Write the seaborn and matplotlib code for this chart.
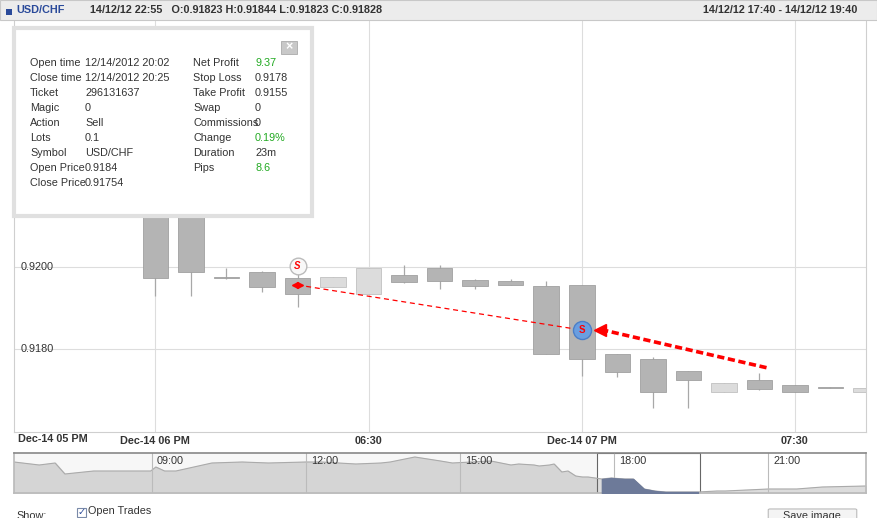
import matplotlib
matplotlib.use("Agg")
import matplotlib.pyplot as plt
import matplotlib.patches as mpatches
import seaborn as sns
import pandas as pd

# ---- data ----
minutes = [0, 5, 10, 15, 20, 25, 30, 35, 40, 45, 50, 55, 60, 65, 70, 75, 80, 85, 90, 95, 100]
opens  = [0.92180, 0.92180, 0.91975, 0.91988, 0.91973, 0.91951, 0.91934, 0.91980, 0.91998, 0.91968, 0.91966, 0.91954, 0.91956, 0.91788, 0.91776, 0.91746, 0.91695, 0.91724, 0.91712, 0.91706, 0.91695]
closes = [0.91973, 0.91988, 0.91972, 0.91951, 0.91934, 0.91976, 0.91998, 0.91963, 0.91966, 0.91954, 0.91956, 0.91788, 0.91776, 0.91744, 0.91695, 0.91724, 0.91717, 0.91702, 0.91695, 0.91704, 0.91705]
highs  = [0.92220, 0.92200, 0.91998, 0.91990, 0.91983, 0.91976, 0.91998, 0.92005, 0.92005, 0.91971, 0.91971, 0.91966, 0.91956, 0.91788, 0.91780, 0.91746, 0.91717, 0.91741, 0.91712, 0.91706, 0.91705]
lows   = [0.91929, 0.91929, 0.91970, 0.91939, 0.91902, 0.91951, 0.91934, 0.91960, 0.91946, 0.91946, 0.91956, 0.91788, 0.91734, 0.91732, 0.91656, 0.91656, 0.91695, 0.91700, 0.91695, 0.91704, 0.91695]
xtick_pos = [0, 30, 60, 90]
xtick_labels = ["Dec-14 06 PM", "06:30", "Dec-14 07 PM", "07:30"]
ytick_vals = [0.9180, 0.9200]
open_trade = (20, 0.91956)
close_trade = (60, 0.91846)
sl_line = (86, 0.91754)

nav_hours = [6.32, 6.81, 7.12, 7.31, 7.87, 8.98, 9.08, 9.25, 9.47, 10.17, 10.76, 11.27, 12.0, 12.3, 12.97, 13.46, 13.64, 14.12, 14.62, 14.85, 15.6, 15.99, 16.14, 16.44, 16.54, 16.74, 16.83, 16.98, 17.10, 17.25, 17.38, 17.49, 17.76, 17.94, 18.2, 18.37, 18.58, 18.69, 18.79, 19.0, 19.27, 19.63, 20.0, 20.16, 21.0, 21.55, 22.05, 22.9]
nav_vals = [31, 28, 30, 19, 22, 22, 26, 22, 22, 30, 31, 30, 31, 31, 29, 30, 31, 36, 32, 30, 32, 28, 29, 28, 27, 28, 29, 21, 22, 17, 16, 16, 14, 15, 14, 14, 4, 3, 2, 1, 1, 1, 2, 2, 4, 4, 6, 7]

# ---- figure ----
sns.set_theme(style="white")
plt.rcParams['font.family'] = ['Liberation Sans', 'DejaVu Sans']
FS = 7.8
W, H = 877, 518
fig = plt.figure(figsize=(W/100, H/100), dpi=100)
fig.patch.set_facecolor("white")
fx = lambda px: px / W
fy = lambda py: 1 - py / H

# header bar
fig.patches.append(mpatches.Rectangle((fx(0), fy(20)), 1, 20/H, transform=fig.transFigure,
                                      facecolor="#ececec", edgecolor="#c8c8c8", lw=0.8))
fig.patches.append(mpatches.Rectangle((fx(6), fy(15)), 6/W, 6/H, transform=fig.transFigure,
                                      facecolor="#2a4a9a", edgecolor="none"))
fig.text(fx(16), fy(10), "USD/CHF", color="#2a4a9a", fontsize=FS, weight="bold", va="center")
fig.text(fx(90), fy(10), "14/12/12 22:55   O:0.91823 H:0.91844 L:0.91823 C:0.91828",
         color="#333333", fontsize=FS, weight="bold", va="center")
fig.text(fx(857), fy(10), "14/12/12 17:40 - 14/12/12 19:40", color="#333333",
         fontsize=FS, weight="bold", va="center", ha="right")

# main axes
ax = fig.add_axes([fx(14), fy(432), 852/W, 412/H])
ax.set_xlim(-19.9, 100)
ax.set_ylim(0.91597, 0.92603)
for m in xtick_pos:
    ax.axvline(m, color="#dddddd", lw=0.8, zorder=0)
for v in ytick_vals:
    ax.axhline(v, color="#dddddd", lw=0.8, zorder=0)

df = pd.DataFrame(dict(m=minutes, o=opens, c=closes, h=highs, l=lows))
df["up"] = df.c > df.o
df["bottom"] = df[["o", "c"]].min(axis=1)
df["height"] = (df.o - df.c).abs().clip(lower=0.000015)
ax.vlines(df.m, df.l, df.h, color="#a8a8a8", lw=0.9, zorder=1)
for up, col in [(False, "#b4b4b4"), (True, "#dcdcdc")]:
    sub = df[df.up == up]
    ax.bar(sub.m, sub.height, bottom=sub.bottom, width=3.6, color=col,
           edgecolor="#a0a0a0" if not up else "#c0c0c0", lw=0.6, zorder=2)

# trade lines
ax.plot([open_trade[0], close_trade[0]], [open_trade[1], close_trade[1]], ls=(0, (4, 3)),
        color="red", lw=0.9, zorder=3)
ax.plot(open_trade[0] + 0.4, open_trade[1], marker=">", color="red", ms=4, zorder=4)
ax.plot(open_trade[0] - 0.4, open_trade[1], marker="<", color="red", ms=4, zorder=4)
ax.plot([sl_line[0], close_trade[0] + 3], [sl_line[1], close_trade[1]], ls=(0, (2, 1)),
        color="red", lw=2.6, zorder=3)
ax.plot(close_trade[0] + 2.5, close_trade[1], marker="<", color="red", ms=9, zorder=4)
ax.plot(close_trade[0], close_trade[1], "o", ms=13, mfc="#6a9ee0", mec="#4a7ec8", zorder=5)
ax.text(close_trade[0], close_trade[1], "S", color="red", fontsize=7, weight="bold",
        ha="center", va="center", zorder=6)
ax.plot(open_trade[0], 0.92003, "o", ms=12, mfc="#f8f8f8", mec="#bbbbbb", zorder=5)
ax.text(open_trade[0], 0.92003, "S", color="red", fontsize=7, weight="bold", style="italic",
        ha="center", va="center", zorder=6)

ax.set_xticks(xtick_pos)
ax.set_xticklabels(xtick_labels, fontsize=FS, weight="bold", color="#333333")
ax.tick_params(axis="x", length=0, pad=3)
ax.set_yticks([])
for v in ytick_vals:
    ax.text(-19.0, v, f"{v:.4f}", fontsize=FS, color="#333333", va="center", ha="left")
fig.text(fx(18), fy(439), "Dec-14 05 PM", fontsize=FS, weight="bold", color="#333333",
         ha="left", va="center")
for s in ax.spines.values():
    s.set_color("#cfcfcf"); s.set_linewidth(0.8)
ax.spines["top"].set_visible(False)

# info box
fig.patches.append(mpatches.Rectangle((fx(14), fy(216)), 298/W, 188/H, transform=fig.transFigure,
                                      facecolor="white", edgecolor="#e0e0e0", lw=3, zorder=10))
fig.patches.append(mpatches.Rectangle((fx(281), fy(54)), 16/W, 13/H, transform=fig.transFigure,
                                      facecolor="#c8c8c8", edgecolor="#aaaaaa", lw=0.6, zorder=11))
fig.text(fx(289), fy(47.5), "×", color="white", fontsize=9, weight="bold", ha="center",
         va="center", zorder=12)
left_rows = [("Open time", "12/14/2012 20:02"), ("Close time", "12/14/2012 20:25"),
             ("Ticket", "296131637"), ("Magic", "0"), ("Action", "Sell"), ("Lots", "0.1"),
             ("Symbol", "USD/CHF"), ("Open Price", "0.9184"), ("Close Price", "0.91754")]
right_rows = [("Net Profit", "9.37", True), ("Stop Loss", "0.9178", False),
              ("Take Profit", "0.9155", False), ("Swap", "0", False),
              ("Commissions", "0", False), ("Change", "0.19%", True),
              ("Duration", "23m", False), ("Pips", "8.6", True)]
for i, (k, v) in enumerate(left_rows):
    y = fy(63 + 15 * i)
    fig.text(fx(30), y, k, fontsize=FS, color="#333333", va="center", zorder=12)
    fig.text(fx(85), y, v, fontsize=FS, color="#333333", va="center", zorder=12)
for i, (k, v, g) in enumerate(right_rows):
    y = fy(63 + 15 * i)
    fig.text(fx(193), y, k, fontsize=FS, color="#333333", va="center", zorder=12)
    fig.text(fx(255), y, v, fontsize=FS, color="#22aa22" if g else "#333333", va="center", zorder=12)

# navigator
nav = fig.add_axes([fx(14), fy(493), 852/W, 40/H])
nav.set_xlim(6.32, 22.9)
nav.set_ylim(0, 40)
ndf = pd.DataFrame(dict(t=nav_hours, v=nav_vals))
nav.fill_between(ndf.t, ndf.v, color="#dcdcdc", zorder=1)
sns.lineplot(data=ndf, x="t", y="v", ax=nav, color="#aaaaaa", lw=0.8, zorder=2)
sel = ndf[(ndf.t >= 17.67) & (ndf.t <= 19.67)]
nav.fill_between(sel.t, sel.v, color="#6d7a99", zorder=3)
nav.axvspan(6.32, 17.67, color="#000000", alpha=0.03, lw=0)
nav.axvspan(17.67, 19.67, facecolor="none", edgecolor="#666666", lw=0.8)
for hh, lab in [(9, "09:00"), (12, "12:00"), (15, "15:00"), (18, "18:00"), (21, "21:00")]:
    nav.axvline(hh, color="#bbbbbb", lw=0.8)
    nav.text(hh + 0.1, 37, lab, fontsize=FS, color="#333333", va="top")
nav.set_xticks([]); nav.set_yticks([]); nav.set_xlabel(""); nav.set_ylabel("")
for s in nav.spines.values():
    s.set_color("#bbbbbb")
nav.spines["top"].set_color("#888888"); nav.spines["top"].set_linewidth(1.2)

# bottom controls
fig.patches.append(mpatches.Rectangle((fx(77), fy(517)), 9/W, 9/H, transform=fig.transFigure,
                                      facecolor="white", edgecolor="#7a8aa8", lw=0.8))
fig.text(fx(78), fy(512.5), "✓", fontsize=7, color="#2a4a9a", va="center", family="DejaVu Sans")
fig.text(fx(88), fy(511), "Open Trades", fontsize=FS, color="#333333", va="center")
fig.text(fx(16), fy(516), "Show:", fontsize=FS, color="#333333", va="center")
fig.patches.append(mpatches.FancyBboxPatch((fx(770), fy(530)), 85/W, 20/H, transform=fig.transFigure,
                                           boxstyle="round,pad=0.002", facecolor="#f4f4f4",
                                           edgecolor="#bbbbbb", lw=0.8))
fig.text(fx(812), fy(516), "Save image", fontsize=FS, color="#333333", ha="center", va="center")

fig.savefig("out.png", dpi=100)
